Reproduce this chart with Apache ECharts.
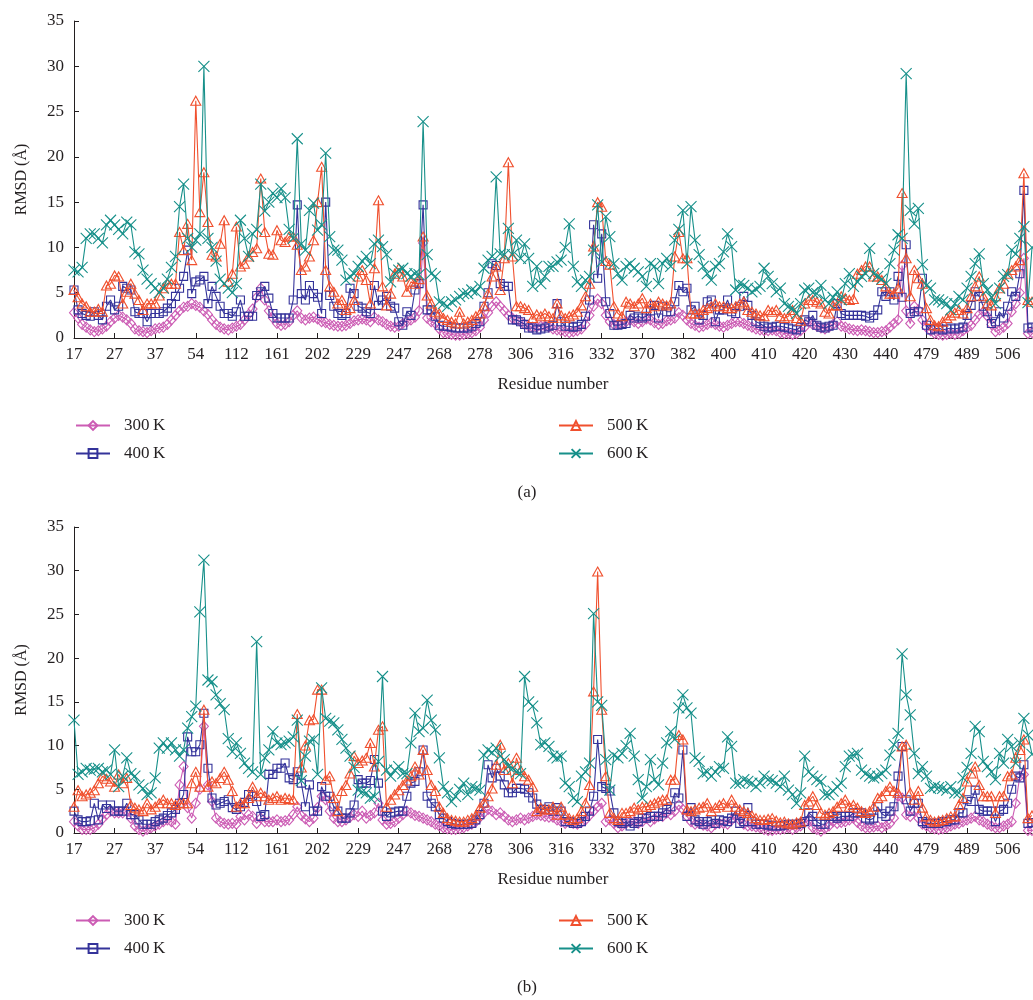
<!DOCTYPE html>
<html><head><meta charset="utf-8">
<script src="https://cdn.jsdelivr.net/npm/echarts@6/dist/echarts.min.js"></script>
<style>html,body{margin:0;padding:0;background:#fff}#c{width:1033px;height:1000px}</style>
</head><body><div id="c"></div>
<script>
const tickLabels = ['17','27','37','54','112','161','202','229','247','268','278','306','316','332','370','382','400','410','420','430','440','479','489','506'];
const seriesNames = ['300\u2009K','400\u2009K','500\u2009K','600\u2009K'];

// Panel (a)
const a300 = [
2.8,2.2,1.5,1.2,0.9,0.7,0.8,1,1.3,1.8,
2.2,2.5,2.3,2,1.6,1,0.8,0.7,0.6,0.8,
1,1.1,1.2,1.5,2,2.5,3,3.4,3.5,3.8,
3.6,3.4,3,2.6,2,1.5,1.2,1,0.9,1.1,
1.3,1.5,2,2.6,3.2,4.5,5.5,4.2,3,2.2,
1.6,1.4,1.5,1.8,2.5,3,2.2,2,2.2,2.3,
2.1,1.8,1.7,1.5,1.4,1.3,1.3,1.4,1.6,1.9,
2,2.1,2,1.8,2.3,2,1.8,1.5,1.3,1.2,
1.3,1.6,1.8,2,2.3,3,10.5,2.2,1.8,1.6,
1,0.6,0.5,0.4,0.3,0.3,0.4,0.5,0.6,0.8,
1.2,2,2.8,3.5,4,3.5,3,2.5,2.2,2,
1.8,1.5,1.3,1.2,1.2,1.3,1.3,1.2,1,0.9,
0.8,0.7,0.6,0.7,0.8,1,1.5,2.5,3.5,4.3,
3.8,2.5,1.8,1.5,1.5,1.6,1.8,2,1.8,1.6,
1.8,2.1,2,1.7,1.5,1.6,1.9,2,2.2,2.8,
2.5,2,1.6,1.4,1.2,1.3,1.5,1.7,1.5,1.3,
1.2,1.4,1.6,1.8,1.8,1.6,1.4,1.2,1,0.9,
0.8,0.8,0.9,0.8,0.6,0.5,0.5,0.4,0.5,0.8,
1.2,1.8,1.5,1.3,1.1,1,1.2,1.5,1.8,1.3,
1.2,1,0.9,0.8,0.9,0.8,0.7,0.6,0.6,0.7,
0.8,1.2,1.6,2,8,3,1.6,3.5,3.1,2,
1.2,0.8,0.5,0.4,0.3,0.4,0.5,0.4,0.5,0.8,
1.1,1.4,2,2.6,2.9,2.4,1.5,0.7,0.9,1.2,
1.6,2.9,3.8,5,8.8,0.5,0.6];
const a400 = [
5.3,3.1,2.7,2.5,2.4,2.9,2.5,2,3.5,4.2,
3.1,3.5,5.7,5.5,5.3,2.9,2.7,2.7,1.8,2.7,
2.7,2.7,2.9,3.3,3.8,4.6,5.5,6.8,9.7,4.9,
6.2,6.4,6.8,3.8,5.7,4.6,3.5,2.7,2.7,2.4,
2.9,4.2,2.4,2.4,2.4,4.7,5.1,5.7,4.4,2.7,
2.2,2.2,2.2,2.2,4.2,14.7,4.9,4.2,5.8,4.9,
4.5,2.7,15,4.7,3.5,2.7,2.5,2.7,5.5,4.9,
3.5,3.3,2.9,2.7,5.8,3.6,4.2,4.6,3.5,3.3,
1.8,1.4,2.9,2.5,5.3,6,14.7,3.1,3.1,2.4,
1.4,1.3,1.3,1.2,1.1,1.1,1.1,1.1,1.3,1.6,
1.8,3.5,5,8.2,8,6,5.7,5.7,2,2,
1.8,1.5,1.1,1.1,0.9,1,1.1,1.3,1.4,3.8,
1.8,1.3,1.3,1.2,1.3,1.5,2.4,4.2,12.5,6.6,
11.5,4,2.7,1.4,1.4,1.5,1.6,2.5,2.2,2.4,
2.2,2.4,3,3.6,2.2,3.5,2.9,2.9,4,5.8,
5.1,5.5,3.1,3.5,2,2.5,4,4.2,1.8,3.1,
3.1,4.2,2.9,2.7,3.5,4.6,3.6,2.5,1.8,1.6,
1.3,1.1,1.2,1.3,1.3,1.2,1.1,1,0.9,1.2,
2,1.8,2.5,1.4,1.2,1.1,1.3,1.4,3.8,2.7,
2.5,2.5,2.5,2.5,2.5,2.4,2.2,2.5,3.1,5.1,
4.6,5.1,4.2,6.8,4.5,10.3,2.7,2.9,2.9,6.6,
1.4,0.9,1,1.1,0.9,1,1.1,1,1.1,1.2,
2.5,3.6,5.1,4.6,3.5,2.9,1.6,1.8,2.9,2.2,
3.5,5.1,4.6,7.1,16.3,1.1,1.2];
const a500 = [
5.3,4.5,3.8,3.5,2.9,2.9,3.2,2.9,5.8,6,
6.9,6.8,3.8,5.1,6,4.9,4.2,3.1,3.8,3.8,
3.8,4.7,5.5,6,6,6,11.7,9.7,12.6,8.6,
26.2,13.9,18.3,12.8,9.2,9,10.4,13,6.2,7.1,
12.3,7.9,8.2,9,9.5,9.9,17.6,11.7,9.3,9.2,
11.9,10.8,10.6,11.2,11.2,10.3,7.5,7.9,9,10.8,
15,18.9,7.5,5.7,5.1,3.8,4.2,3.1,3.3,4.2,
6.8,7.5,6.4,3.8,7.7,15.2,5.7,3.6,4.9,7.1,
7.7,6.8,5.1,6.2,6,6.5,11.2,4.7,3.8,2.9,
2.7,2.2,2,1.8,1.6,2.9,1.6,1.8,2,2.4,
2.7,3.5,4.9,6.8,7.9,5.3,8.8,19.4,9,3.5,
3.5,3.3,3.1,2.2,2.6,2.4,2.7,2.4,2.2,3.8,
2.5,2.2,2.4,2.6,2.9,3.6,4.6,6,10.1,15,
14.5,8.5,8.1,3.5,2.7,2.4,4,3.8,3.5,3.8,
4.4,3.3,3.8,3.5,4,3.8,3.6,3.8,9,11.7,
8.8,8.8,2.7,2.7,2.7,3.1,3.3,3.5,3.8,3.5,
3.5,3.3,3.3,3.5,3.8,4,3.1,2.9,2.7,2.5,
2.4,3.1,2.9,3.1,2.4,2.2,2.4,3.1,2.2,1.9,
3.8,4.2,4.2,4,3.8,2.9,2.7,3.6,3.6,4.6,
4.4,4.2,4.3,7.1,7.5,7.9,7.9,6.8,6.8,6.4,
5.7,4.9,4.9,5.5,16,8.8,4.6,7.5,6.6,6,
3.3,2,1.4,1.3,1.8,2.2,2.5,2.8,3.1,2.7,
3.3,4.6,5.7,6.8,4.6,3.8,3.6,4.6,5.5,6,
7.1,7.5,7.9,8.6,18.2,4.2,4];
const a600 = [
7.5,7.3,7.8,11,11.5,11.5,11,10.5,12.5,13,
12.5,12,11.5,12.8,12.5,9.5,9.3,7.5,6.5,6,
5.5,5,5.5,6.5,7.8,9,14.5,17,11,10,
10.8,11.5,30,11,10,8.5,6.5,6,5.5,5,
6,13,11,9,11.5,12,17,14,15,16,
15.5,16.5,15.5,12,11,22,10.4,9.7,14.1,14.9,
11.9,12.5,20.4,11.2,9.7,9.7,8.6,6.4,6.8,7.1,
7.9,8.5,9,8.2,10.4,10.8,10.1,9.2,6.2,7.1,
7.5,7.7,7.1,6.8,7.1,7,23.9,9.2,7.1,6.8,
4,3.8,3.5,4,4.2,4.6,4.9,4.9,5.3,5.1,
5.7,7.7,8.6,9,17.8,9.3,9.2,12.1,9.2,10.8,
8.8,10.4,8.8,5.7,7.9,6,6.8,7.9,7.9,8.4,
8.6,10,12.6,7.9,6.2,5.7,6.4,6.8,9.7,14.7,
8.4,13.4,11.2,8.2,7.1,6.4,7.9,8.2,7.7,7.3,
6.8,5.7,8.2,7.9,6,8.2,8.8,7.9,10.8,12,
14.1,8.2,14.5,10.8,9.2,7.9,7.1,6.4,7.9,8.2,
9.5,11.5,10.1,5.3,6,5.8,5.5,5.1,5.4,5.7,
7.7,6.8,6,5.1,5.5,3.8,3.5,3.3,2.7,3.8,
5.3,5.5,5,4.9,5.8,4.2,3.8,4.5,5.1,4.2,
6,7.1,5.7,6.2,6.8,7.1,9.9,7.1,6.8,6.5,
6,8.2,9.7,11.4,11,29.2,14.1,12.6,14.3,8.1,
5.8,5.5,4.2,4.2,4,3.8,3.1,3.8,4.6,4.2,
5.5,6.8,8.2,9.3,6,5.3,4.5,3.8,5.5,6.8,
7,9.7,9.3,11,12.3,3.9,10];

// Panel (b)
const b300 = [
1.3,0.8,0.4,0.4,0.4,0.6,1,1.6,2.1,2.5,
2.3,2.3,2.3,2.5,1.7,0.8,0.4,0.2,0.4,0.6,
0.8,1,1.3,1.5,1.3,1,5.5,7.6,2.9,1.7,
3.4,5,12.2,5.5,3.6,1.7,1.3,1.1,1,1.1,
1,1.9,1.5,2.1,1.9,1.1,1.7,1.3,1.3,1.3,
1.5,1.3,1.4,1.5,2.1,3,2,1.6,1.3,1.7,
2.9,4.2,3.8,2.5,1.7,1.3,1.3,1.5,1.8,2.1,
1.9,2.5,1.7,2,2.3,3.4,1.5,1,1.1,1.3,
1.7,2.1,2.5,2.3,2,1.9,1.7,1.5,1.3,1,
0.8,0.6,0.5,0.4,0.4,0.5,0.6,0.8,1,1.3,
1.8,2.3,2.7,2.5,2.1,2.3,1.9,1.5,1.3,1.5,
1.7,1.5,1.7,1.9,2.1,2,1.9,1.8,1.8,1.5,
1.3,1.1,1.3,1.1,1,1.2,1.5,2,2.5,3,
3.4,1.3,1.5,1.1,0.6,0.8,1.1,1.3,1.3,1.1,
1.3,1.7,1.3,1.6,1.9,1.9,2.3,2.1,2.5,3.2,
2.7,1.9,1.3,1,1.1,0.9,0.8,0.6,1,1.1,
1.1,1,1.5,1.9,1.5,1,0.8,0.8,0.7,0.6,
0.4,0.3,0.3,0.4,0.4,0.5,0.6,0.4,0.6,0.8,
1.2,1.5,0.6,0.4,0.2,0.5,0.8,1.3,1.1,1.2,
1.3,1.5,1.7,1.2,0.8,0.6,0.6,0.7,0.8,0.6,
0.8,1.1,1.7,4.2,4,2.1,1.9,2.5,1.7,1,
0.8,0.6,0.5,0.4,0.5,0.6,0.8,1,1.1,1.3,
1.5,1.7,1.9,1.5,1.3,1,0.8,0.6,0.6,0.8,
1,1.3,3.4,6.5,6.7,0.3,0.3];
const b400 = [
2.5,1.5,1.3,1.3,1.4,3.4,1.5,3.2,2.8,3.2,
2.5,2.5,2.5,3.4,2.1,2.1,1.5,1,1,1,
1.3,1.5,1.7,2,2.3,2.7,3.4,4.4,11,9.3,
9.3,10.1,13.7,7.4,4,3.2,3.4,3.6,3.8,2.9,
2.7,3,3.5,4.4,4.2,3.6,1.9,2.1,6.7,6.7,
7.4,7.4,8,6.3,6.1,7,5.7,3,5.5,2.5,
2.5,5.3,4.2,4.2,3,2.5,1.7,1.7,2.3,3.2,
6.1,5.7,5.7,6,8.4,5.7,2.5,1.9,2.3,2.4,
2.5,2.5,4.2,5.7,5.9,7,9.5,4.2,3.4,3,
2.1,1.7,1.3,1.1,1,1,1,1,1.1,1.5,
2.1,3.4,7.8,6.3,7.4,6.5,5.5,4.6,4.6,5.1,
5.1,5,4.6,4,3.3,2.7,2.7,3,2.5,2.9,
2.5,1.3,1.3,1.1,1.1,1.3,1.9,2.5,4.2,10.7,
5.3,5.1,4.8,2.3,1.3,1.1,1.3,0.8,1.1,1.3,
1.7,1.7,1.9,1.9,1.9,2.3,2.7,3,4.6,4,
9.5,1.9,2.9,1.5,1.3,1,1.3,1.5,1.1,1.5,
1.4,1.3,1.7,2.5,1.1,1.3,2.9,1.3,1,1,
1,0.9,0.8,0.8,0.8,0.9,1,1,1,1.1,
1.3,2.3,1.9,1.3,1,1,1.9,1.9,1.7,1.9,
1.9,1.9,2.3,2.3,2.3,1.7,1.5,1.7,3,2.2,
1.9,2.5,3,6.5,9.9,3.8,2.5,3.4,3.4,1.3,
1.1,1.1,1.1,1.1,1.3,1.3,1.5,1.5,2.3,2.3,
3.8,3.6,4.9,2.7,2.5,2.5,2.5,1.3,2.5,2.7,
3.4,5,6.5,6.3,7.8,1.1,1.2];
const b500 = [
3,4.9,4.2,4.4,4.6,4.9,5.7,6.5,6.2,5.9,
5.3,6.7,5.7,6.3,3.2,2.9,2.7,2.5,3.4,2.7,
3,3.4,3.8,3.4,3.4,3.2,3.4,3.4,3.4,5.7,
7,5.3,14.1,5.3,5.9,5.7,6.3,7,6.1,4.8,
3,3.4,3.4,4,5.3,4.2,4.6,4.2,3.8,4,
4.2,3.8,4,3.9,3.8,13.6,7.5,10,12.9,13,
16.4,16.4,6.1,6.5,4,2.5,4.8,5.5,6.8,8.8,
8,8.3,8.6,10.3,7.6,11.8,12.2,3,3.8,4.4,
4.9,5.5,6,6.5,7.6,6.7,9.5,7.2,5.5,4.8,
3,2.3,1.7,1.5,1.4,1.3,1.3,1.5,1.7,2,
2.9,3.5,4.2,5.1,7.8,10.1,7.2,8,5.7,8.6,
7.2,6.5,6.1,5.3,2.5,2.9,2.7,2.7,3,2.1,
3,2.1,1.7,1.5,1.7,2.5,3.4,5.5,16.2,29.9,
14.1,6.5,2.3,1.7,1.5,2.3,2.3,2.5,2.9,2.7,
3,3,3.2,3.4,3.6,3.8,3.8,6.1,6.1,11.2,
10.7,2.7,2.5,2.7,2.9,3,3.4,2.5,2.9,3.2,
3.4,3,3.8,3,2.7,2.5,2.3,2,1.7,1.5,
1.5,1.6,1.7,1.4,1.2,1.3,1.1,1,1.2,1.3,
3.2,3.6,4.2,3.2,2.3,2.1,2.3,2.5,3,3.4,
3.8,3,3.2,2.9,2.5,2.3,2.5,3,4,4.2,
4.8,5.3,4.8,4.6,9.9,10.1,4.6,3.8,4.8,2.9,
1.9,1.5,1.3,1.4,1.5,1.7,1.9,1.9,3.2,4,
5.9,6.8,7.6,5.5,4.2,4.2,4.2,2.3,4.2,4.2,
6.5,6.7,8.6,9.5,10.7,1.7,2];
const b600 = [
12.9,6.7,7,7.4,7.2,7.3,7.4,7,7.2,6.7,
9.5,5.3,6.5,8.6,6.8,6.5,5.5,5.1,4.4,4.6,
6.3,9.7,10.3,9.7,10.3,9.5,8.8,9.5,12,13.3,
14.5,25.3,31.2,17.5,17.3,15.8,14.8,14.1,10.8,9.3,
10.3,9.1,8,7.4,7,21.9,6.7,8.6,9.5,11.6,
10.3,10.1,10.3,10.5,11,12.9,6,8.8,10.5,10.7,
6.7,16.6,13.1,12.8,12.6,11.8,10.7,9.7,8.8,7.5,
4.9,4.7,4.6,4,4.2,8.2,17.9,7.2,6.5,7.2,
7.6,6.8,6.8,10.3,13.7,11.6,12,15.2,12.9,11.8,
8.6,5.3,4.6,3.6,4.2,5,5.7,4.4,5.3,5.1,
4.9,8.9,9.5,9.2,9.7,8.8,8.4,7.6,7.4,7,
6.8,17.9,15,14.5,12.6,10.1,10.3,9.9,8.8,8.6,
8.8,5.7,5.3,4,3.6,6.5,7,8,25.1,15,
14.6,8.4,4.9,8.9,8.6,9.1,10,11.4,8.8,6.1,
4,5.3,8.4,6.1,5.5,8,10.3,11.6,10.7,14.3,
15.8,14.3,13.7,8.6,8.2,6.8,7,6.5,7,7.6,
7.4,11,9.9,5.7,5.7,6.1,5.9,5.7,5.3,5.7,
6.5,6.1,6,5.7,5.3,6.5,4.9,4.4,3.4,4.6,
8.8,7,6.5,6.1,5.9,4.4,4.4,4.8,5.3,5.7,
7.6,8.8,8.9,9.1,7.2,6.8,6.5,6.3,6.5,6.8,
7.2,8.9,10.1,11.4,20.5,15.8,13.5,9.1,6.8,7.6,
6.5,5.1,5.3,5.2,5.1,4.9,5.3,4.6,4.6,6.3,
7.5,9.1,12.2,11.6,8.2,7.6,7,6.1,9.1,8,
10.7,9.9,8,10.3,13.1,11.2,9];

const categories = a300.map((_, i) => 'p' + i);

const FONT = '"Liberation Serif", "Times New Roman", serif';
const INK = '#231f20';
const looks = [
  {color:'#cc5cb4', symbol:'diamond', size:[9,10]},
  {color:'#34339a', symbol:'rect', size:8},
  {color:'#f0502e', symbol:'triangle', size:[10,9]},
  {color:'#17908a', symbol:'path://M0,0L10,10M0,10L10,0', size:11}
];

function xAxis(g){
  return {
    type:'category', gridIndex:g, data:categories, boundaryGap:false,
    axisLine:{lineStyle:{color:INK, width:1}},
    axisTick:{inside:true, length:5, interval:(i)=>i%10===0, lineStyle:{color:INK}},
    axisLabel:{interval:(i)=>i%10===0, formatter:(v,i)=> (i%10===0 && tickLabels[i/10]) ? tickLabels[i/10] : '',
      margin:8, color:INK, fontSize:17, fontFamily:FONT},
    name:'Residue number', nameLocation:'middle', nameGap:38,
    nameTextStyle:{color:INK, fontSize:17, fontFamily:FONT},
    splitLine:{show:false}
  };
}
function yAxis(g){
  return {
    type:'value', gridIndex:g, min:0, max:35, interval:5,
    axisLine:{show:true, lineStyle:{color:INK, width:1}},
    axisTick:{show:true, inside:true, length:5, lineStyle:{color:INK}},
    axisLabel:{margin:10, color:INK, fontSize:17, fontFamily:FONT},
    splitLine:{show:false},
    name:'RMSD (Å)', nameLocation:'middle', nameGap:44, nameRotate:90,
    nameTextStyle:{color:INK, fontSize:16, fontFamily:FONT}
  };
}
function mk(name, data, k, g){
  const L = looks[k];
  return {
    name, type:'line', xAxisIndex:g, yAxisIndex:g, data,
    symbol:L.symbol, symbolSize:L.size, showSymbol:true, showAllSymbol:true,
    lineStyle:{color:L.color, width:1.1},
    itemStyle:{color:'rgba(255,255,255,0)', borderColor:L.color, borderWidth:1.1},
    emphasis:{disabled:true}, animation:false, z: 2 + k
  };
}
const legendSlots = [[75,0],[75,28],[558,0],[558,28]];
function legends(topBase){
  return seriesNames.map((n, k) => ({
    data:[n], left:legendSlots[k][0], top:topBase + legendSlots[k][1],
    orient:'horizontal', padding:0, itemWidth:34, itemHeight:11, selectedMode:false,
    textStyle:{color:INK, fontSize:17, fontFamily:FONT, padding:[0,0,0,9]}
  }));
}

const chart = echarts.init(document.getElementById('c'), null, {renderer:'canvas'});
chart.setOption({
  backgroundColor:'#fff',
  animation:false,
  grid:[
    {left:74, top:21, width:958, height:317},
    {left:74, top:527, width:958, height:306}
  ],
  xAxis:[xAxis(0), xAxis(1)],
  yAxis:[yAxis(0), yAxis(1)],
  legend:[...legends(417), ...legends(912)],
  graphic:[
    {type:'text', x:527, y:493, style:{text:'(a)', fill:INK, font:'17px ' + FONT, align:'center', verticalAlign:'middle'}},
    {type:'text', x:527, y:988, style:{text:'(b)', fill:INK, font:'17px ' + FONT, align:'center', verticalAlign:'middle'}}
  ],
  series:[
    mk(seriesNames[0], a300, 0, 0), mk(seriesNames[1], a400, 1, 0),
    mk(seriesNames[2], a500, 2, 0), mk(seriesNames[3], a600, 3, 0),
    mk(seriesNames[0], b300, 0, 1), mk(seriesNames[1], b400, 1, 1),
    mk(seriesNames[2], b500, 2, 1), mk(seriesNames[3], b600, 3, 1)
  ]
});
</script></body></html>
